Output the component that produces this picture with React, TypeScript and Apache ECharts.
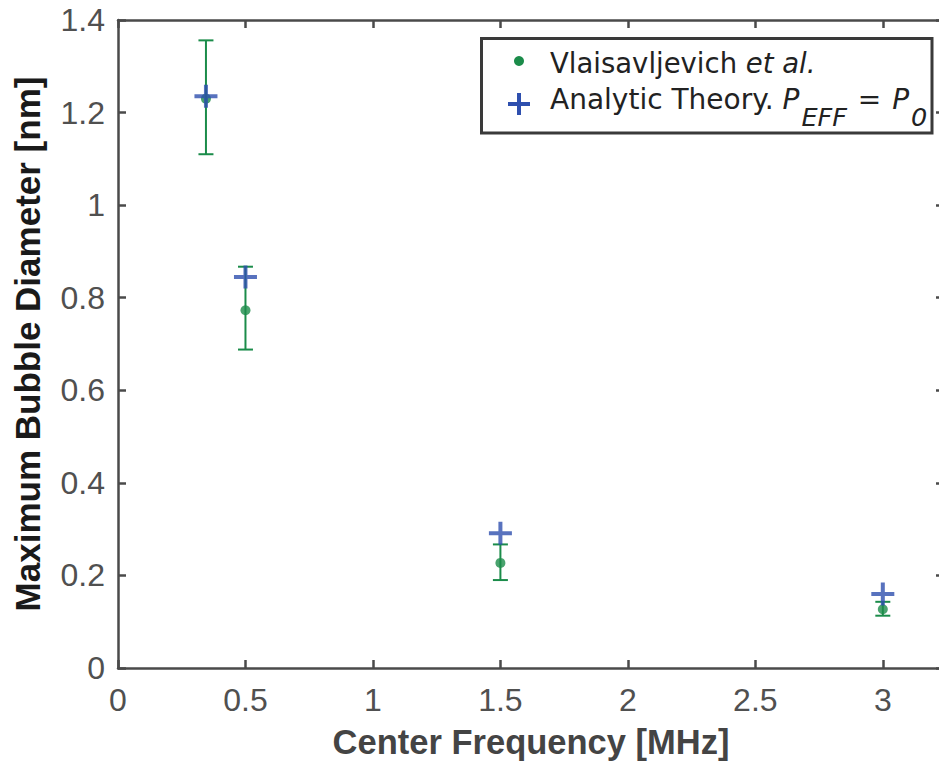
import React, { useEffect, useRef } from "react";
import * as echarts from "echarts";

// Center frequency [MHz]
const frequencies = [0.345, 0.5, 1.5, 3];
// Vlaisavljevich et al. (measured) with error bars
const measuredDiameter = [1.23, 0.773, 0.227, 0.127];
const measuredLow = [1.11, 0.688, 0.19, 0.113];
const measuredHigh = [1.356, 0.867, 0.267, 0.143];
// Analytic theory, P_EFF = P_0
const theoryDiameter = [1.235, 0.845, 0.291, 0.16];

const seriesNames = ["Vlaisavljevich et al.", "Analytic Theory. P_EFF = P_0"];
const xAxisTitle = "Center Frequency [MHz]";
const yAxisTitle = "Maximum Bubble Diameter [nm]";

const GREEN = "#1b8c4a";
const BLUE = "#2e4fae";
const AXIS = "#4a4a4a";
const CROSS =
  "path://M9.5,0 L13.5,0 L13.5,9.5 L23,9.5 L23,13.5 L13.5,13.5 L13.5,23 L9.5,23 L9.5,13.5 L0,13.5 L0,9.5 L9.5,9.5 Z";

export default function App() {
  const ref = useRef<HTMLDivElement>(null);
  useEffect(() => {
    if (!ref.current) return;
    const chart = echarts.init(ref.current, undefined, { renderer: "svg" });
    const errorData = frequencies.map((f, i) => [f, measuredLow[i], measuredHigh[i]]);
    const measuredData = frequencies.map((f, i) => [f, measuredDiameter[i]]);
    const theoryData = frequencies.map((f, i) => [f, theoryDiameter[i]]);

    const tickFont = { fontFamily: "Liberation Sans", fontSize: 32, color: "#505050" };
    const baseX = {
      type: "value" as const,
      min: 0,
      max: 3.24,
      interval: 0.5,
      splitLine: { show: false },
      axisLine: { show: true, onZero: false, lineStyle: { color: AXIS, width: 2.5 } },
      axisTick: { show: true, inside: true, length: 8, lineStyle: { color: AXIS, width: 2.5 } },
    };
    const baseY = {
      type: "value" as const,
      min: 0,
      max: 1.4,
      interval: 0.2,
      splitLine: { show: false },
      axisLine: { show: true, onZero: false, lineStyle: { color: AXIS, width: 2.5 } },
      axisTick: { show: true, inside: true, length: 8, lineStyle: { color: AXIS, width: 2.5 } },
    };

    const mainFont = "DejaVu Sans";
    chart.setOption({
      animation: false,
      backgroundColor: "#ffffff",
      grid: {
        left: 118,
        top: 20,
        height: 648,
        width: 826,
        containLabel: false,
        outerBoundsMode: "none",
      },
      xAxis: [
        {
          ...baseX,
          position: "bottom",
          name: xAxisTitle,
          nameLocation: "middle",
          nameGap: 56,
          nameTextStyle: { fontFamily: "Liberation Sans", fontWeight: "bold", fontSize: 34.5, color: "#444444" },
          axisLabel: { ...tickFont, margin: 16, showMaxLabel: false },
        },
        { ...baseX, position: "top", axisLabel: { show: false } },
      ],
      yAxis: [
        {
          ...baseY,
          position: "left",
          name: yAxisTitle,
          nameLocation: "middle",
          nameGap: 73,
          nameTextStyle: { fontFamily: "Liberation Sans", fontWeight: "bold", fontSize: 35, color: "#1a1a1a" },
          axisLabel: { ...tickFont, margin: 13 },
        },
        { ...baseY, position: "right", axisLabel: { show: false } },
      ],
      series: [
        {
          name: "error",
          type: "custom",
          xAxisIndex: 0,
          yAxisIndex: 0,
          data: errorData,
          encode: { x: 0, y: [1, 2] },
          renderItem: (params: any, api: any) => {
            const x = api.value(0);
            const top = api.coord([x, api.value(2)]);
            const bot = api.coord([x, api.value(1)]);
            const hw = 7.5;
            const style = { stroke: GREEN, lineWidth: 2 };
            return {
              type: "group",
              children: [
                { type: "line", shape: { x1: top[0], y1: top[1], x2: bot[0], y2: bot[1] }, style },
                { type: "line", shape: { x1: top[0] - hw, y1: top[1], x2: top[0] + hw, y2: top[1] }, style },
                { type: "line", shape: { x1: bot[0] - hw, y1: bot[1], x2: bot[0] + hw, y2: bot[1] }, style },
              ],
            };
          },
          z: 1,
        },
        {
          name: seriesNames[0],
          type: "scatter",
          data: measuredData,
          symbol: "circle",
          symbolSize: 10,
          itemStyle: { color: GREEN },
          z: 2,
        },
        {
          name: seriesNames[1],
          type: "scatter",
          data: theoryData,
          symbol: CROSS,
          symbolSize: 23,
          itemStyle: { color: BLUE },
          z: 3,
        },
      ],
      graphic: [
        {
          type: "rect",
          shape: { x: 481.5, y: 38.5, width: 450.5, height: 94.5 },
          style: { fill: "#ffffff", stroke: "#3a3a3a", lineWidth: 3 },
          z: 10,
        },
        { type: "circle", shape: { cx: 519, cy: 61, r: 5 }, style: { fill: GREEN }, z: 11 },
        {
          type: "polygon",
          shape: {
            points: [
              [517, 93], [521, 93], [521, 102], [530, 102], [530, 106], [521, 106],
              [521, 115], [517, 115], [517, 106], [508, 106], [508, 102], [517, 102],
            ],
          },
          style: { fill: BLUE },
          z: 11,
        },
        {
          type: "text",
          x: 550,
          y: 62.5,
          style: {
            text: "{n|Vlaisavljevich }{i|et al.}",
            verticalAlign: "middle",
            rich: {
              n: { fontFamily: mainFont, fontSize: 27.5, fill: "#222222" },
              i: { fontFamily: mainFont, fontSize: 27.5, fontStyle: "italic", fill: "#222222" },
            },
          },
          z: 11,
        },
        {
          type: "text",
          x: 550,
          y: 85,
          style: {
            text: "{n|Analytic Theory. }{i|P}{s|EFF}{m| = }{i|P}{s|0}",
            verticalAlign: "top",
            rich: {
              n: { fontFamily: mainFont, fontSize: 28, fill: "#222222", verticalAlign: "top" },
              m: { fontFamily: mainFont, fontSize: 28, fill: "#222222", verticalAlign: "top", padding: [0, 2, 0, 2] },
              i: { fontFamily: mainFont, fontSize: 28, fontStyle: "italic", fill: "#222222", verticalAlign: "top" },
              s: {
                fontFamily: mainFont,
                fontSize: 25.5,
                fontStyle: "italic",
                fill: "#222222",
                verticalAlign: "top",
                padding: [19, 0, 0, 2],
              },
            },
          },
          z: 11,
        },
      ],
    });
    return () => chart.dispose();
  }, []);
  return (
    <div
      ref={ref}
      style={{ position: "fixed", left: 0, top: 0, width: 939, height: 766, background: "#fff" }}
    />
  );
}
